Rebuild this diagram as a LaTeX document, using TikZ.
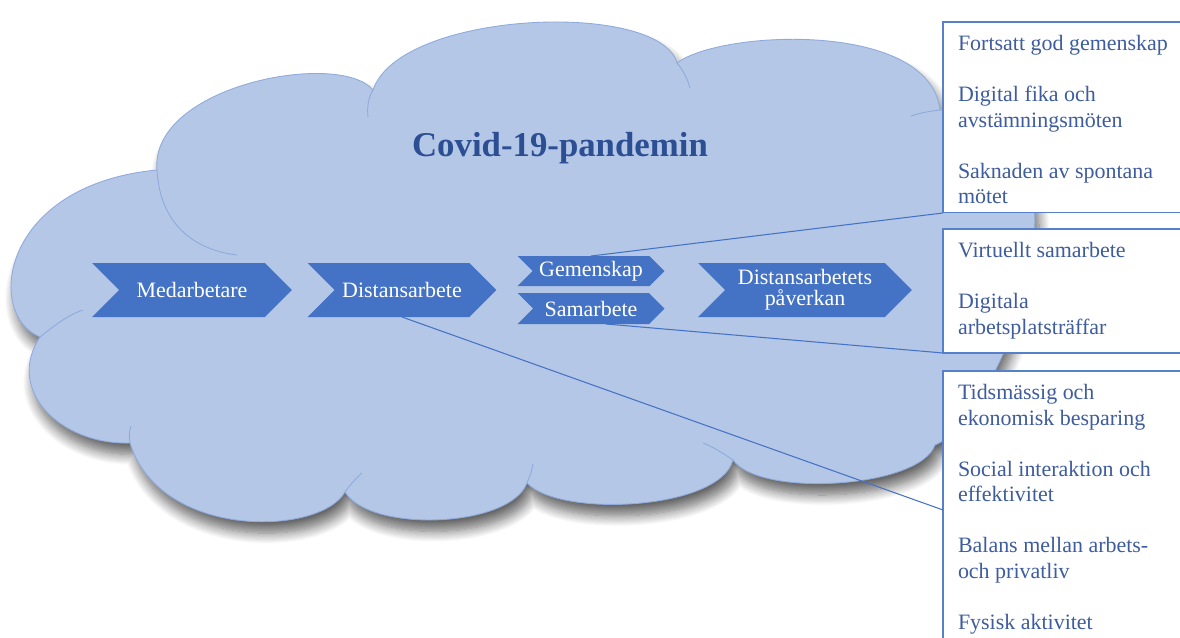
\documentclass[tikz,border=0pt]{standalone}
\usepackage{fontspec}
\setmainfont{Liberation Serif}
\usetikzlibrary{shapes.symbols, shadows.blur, positioning}
\definecolor{cloudblue}{RGB}{180,199,231}
\definecolor{cloudedge}{RGB}{143,170,220}
\definecolor{accent}{RGB}{68,114,196}
\definecolor{titleblue}{RGB}{44,78,146}
\definecolor{itemblue}{RGB}{62,92,158}

\begin{document}
\begin{tikzpicture}[x=0.02cm, y=-0.02cm, inner sep=0, outer sep=0,
  chevron/.style={signal, signal to=east, signal from=west, fill=accent,
    text=white, align=center, minimum height=1.08cm,
    font=\fontsize{12.5}{12}\selectfont},
  infobox/.style={rectangle, draw=accent!90, line width=0.6pt, fill=white,
    anchor=north west, minimum width=5.2cm},
  itemtext/.style={anchor=north west, align=left, text=itemblue,
    font=\fontsize{12.5}{14.5}\selectfont},
  seam/.style={draw=cloudedge, line width=0.5pt},
  connector/.style={draw=accent, line width=0.6pt}]

  \clip (0,0) rectangle (1180,637);

  % cloud
  \path[fill=cloudblue, draw=cloudedge, line width=0.5pt,
    blur shadow={shadow xshift=2.5pt, shadow yshift=-6.5pt,
      shadow blur radius=6pt, shadow blur steps=12, shadow opacity=60}]
    (40,337) .. controls (-15,315) and (0,185) .. (157,170)
    .. controls (150,85) and (340,50) .. (373,90)
    .. controls (400,10) and (660,0) .. (677,63)
    .. controls (720,30) and (930,20) .. (940,110)
    .. controls (1120,120) and (1000,420) .. (935,445)
    .. controls (920,488) and (760,498) .. (733,460)
    .. controls (720,510) and (560,518) .. (527,483)
    .. controls (510,528) and (370,533) .. (345,492)
    .. controls (320,536) and (160,540) .. (130,443)
    .. controls (60,445) and (5,390) .. (40,337) -- cycle;

  \draw[seam] (157,170) .. controls (160,225) and (195,250) .. (237,255);
  \draw[seam] (373,90) .. controls (368,98) and (367,108) .. (368,117);
  \draw[seam] (677,63) .. controls (683,70) and (688,80) .. (690,88);
  \draw[seam] (940,110) .. controls (930,111) and (920,113) .. (911,116);
  \draw[seam] (40,337) .. controls (55,325) and (68,315) .. (83,310);
  \draw[seam] (130,443) .. controls (129,437) and (129,431) .. (131,426);
  \draw[seam] (345,492) .. controls (350,485) and (356,478) .. (362,473);
  \draw[seam] (527,483) .. controls (530,476) and (532,470) .. (533,464);
  \draw[seam] (733,460) .. controls (723,453) and (713,447) .. (703,443);

  \node[text=titleblue, font=\fontsize{19.8}{22}\selectfont\bfseries]
    (pandemic) at (560,148) {Covid-19-pandemin};

  \node[chevron, minimum width=4cm] (med) at (192,290) {Medarbetare};
  \node[chevron, minimum width=3.78cm] (dist) at (402,290) {Distansarbete};
  \node[chevron, minimum width=2.94cm, minimum height=0.6cm] (gem) at (591,271) {Gemenskap};
  \node[chevron, minimum width=2.94cm, minimum height=0.62cm] (sam) at (591,308.5) {Samarbete};
  \node[chevron, minimum width=4.28cm] (impact) at (805,290) {Distansarbetets\\påverkan};

  \node[infobox, minimum height=3.82cm] (gemBox) at (943,22) {};
  \node[infobox, minimum height=2.48cm] (samBox) at (943,229) {};
  \node[infobox, minimum height=5.56cm] (distBox) at (943,371) {};

  \draw[connector] (gem.north) -- (gemBox.south west);
  \draw[connector] ([xshift=0.3cm]sam.south) -- (samBox.south west);
  \draw[connector] (dist.south) -- (distBox.west);

  \node[itemtext] (gemText) at ([xshift=0.3cm, yshift=-0.27cm]gemBox.north west)
    {Fortsatt god gemenskap\\[14.5pt]
     Digital fika och\\avstämningsmöten\\[14.5pt]
     Saknaden av spontana\\mötet};
  \node[itemtext] (samText) at ([xshift=0.3cm, yshift=-0.27cm]samBox.north west)
    {Virtuellt samarbete\\[14.5pt]
     Digitala\\arbetsplatsträffar};
  \node[itemtext] (distText) at ([xshift=0.3cm, yshift=-0.27cm]distBox.north west)
    {Tidsmässig och\\ekonomisk besparing\\[14.5pt]
     Social interaktion och\\effektivitet\\[14.5pt]
     Balans mellan arbets-\\och privatliv\\[14.5pt]
     Fysisk aktivitet};
\end{tikzpicture}
\end{document}
